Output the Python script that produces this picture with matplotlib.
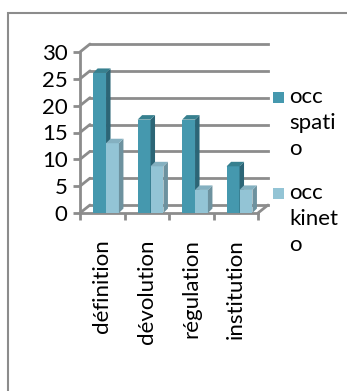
import matplotlib.pyplot as plt
from matplotlib.patches import Polygon, Rectangle, ConnectionPatch
from matplotlib.transforms import ScaledTranslation

categories = ['définition', 'dévolution', 'régulation', 'institution']
occ_spatio = [26.1, 17.4, 17.4, 8.7]
occ_kineto = [13.0, 8.7, 4.3, 4.3]
series_names = ['occ\nspati\no', 'occ\nkinet\no']
yticks = [0, 5, 10, 15, 20, 25, 30]

GRID = '#8c8c8c'
dark = ('#4598ae', '#2c6576', '#37808f')   # front, side, top
light = ('#93c4d5', '#6d929f', '#84b0c0')

plt.rcParams['font.family'] = ['Lato', 'DejaVu Sans']

W, H = 347, 391
fig = plt.figure(figsize=(W / 100, H / 100), dpi=100)

# outer frame of the chart area
fig.patches.append(Rectangle((8 / W, -0.2), 1.2, 0.2 + 1 - 13 / H, transform=fig.transFigure,
                             fill=False, ec=GRID, lw=1.5))

x0, x1, y0, y1 = 80, 258, 213, 52
ax = fig.add_axes([x0 / W, 1 - y0 / H, (x1 - x0) / W, (y0 - y1) / H])
ax.set_xlim(-0.5, 3.5)
ax.set_ylim(0, 30)
ax.patch.set_visible(False)
for s in ['top', 'right']:
    ax.spines[s].set_visible(False)
for s in ['left', 'bottom']:
    ax.spines[s].set_color(GRID)
    ax.spines[s].set_linewidth(2)

# back wall offset (pixels)
back = ax.transData + ScaledTranslation(10 / 100, 8 / 100, fig.dpi_scale_trans)
for t in yticks:
    ax.plot([-0.5, 3.5], [t, t], color=GRID, lw=2, transform=back, zorder=1, clip_on=False)
    ax.add_artist(ConnectionPatch((-0.5, t), (-0.5, t), coordsA=ax.transData, coordsB=back,
                                  color=GRID, lw=2, zorder=1))
ax.add_artist(ConnectionPatch((3.5, 0), (3.5, 0), coordsA=ax.transData, coordsB=back,
                              color=GRID, lw=2, zorder=1))

ax.set_yticks(yticks)
ax.set_xticks([-0.5, 0.5, 1.5, 2.5, 3.5])
ax.set_xticklabels([])
ax.set_xticks(range(len(categories)), minor=True)
ax.set_xticklabels(categories, minor=True, rotation=90, fontsize=16)
ax.tick_params(axis='x', which='minor', length=0, pad=19)
ax.tick_params(axis='both', which='major', direction='out', length=5, width=2, color=GRID)
ax.tick_params(axis='y', labelsize=16, pad=4)

# bars with a little depth
bw = 0.29
ppx = (x1 - x0) / 4.0
ppy = (y0 - y1) / 30.0
dx, dy = 4.5 / ppx, 4.5 / ppy


def bar3d(xs, hs, cols):
    ax.bar(xs, hs, width=bw, color=cols[0], zorder=3, linewidth=0)
    for x, h in zip(xs, hs):
        l, r = x - bw / 2, x + bw / 2
        ax.add_patch(Polygon([(r, 0), (r, h), (r + dx, h + dy), (r + dx, dy)],
                             closed=True, fc=cols[1], lw=0, zorder=3))
        ax.add_patch(Polygon([(l, h), (r, h), (r + dx, h + dy), (l + dx, h + dy)],
                             closed=True, fc=cols[2], lw=0, zorder=3))


idx = range(len(categories))
bar3d([i - 0.06 for i in idx], occ_spatio, dark)
bar3d([i + 0.23 for i in idx], occ_kineto, light)

# legend
for k, (name, col) in enumerate(zip(series_names, [dark[0], light[0]])):
    ytop = 92 + k * 96
    fig.patches.append(Rectangle((273 / W, 1 - (ytop + 11) / H), 11 / W, 11 / H,
                                 transform=fig.transFigure, fc=col, ec='none'))
    fig.text(289 / W, 1 - (ytop - 5) / H, name, fontsize=16, va='top', ha='left',
             linespacing=1.38)

fig.savefig('out.png', dpi=100)
